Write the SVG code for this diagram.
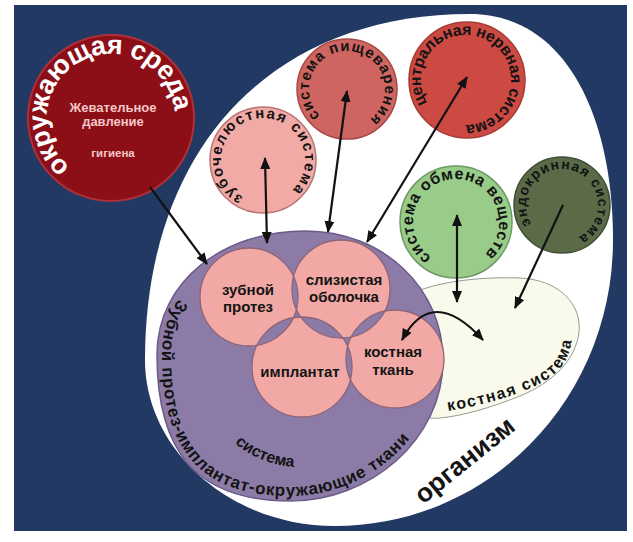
<svg xmlns="http://www.w3.org/2000/svg" width="633" height="542" viewBox="0 0 633 542">
<defs>
<style>
text{font-family:"Liberation Sans",Arial,"DejaVu Sans",sans-serif;font-weight:bold}
.dk{fill:#141414}
.lt{fill:#f5c8c8}
.wt{fill:#ffffff}
#connectors path{fill:none;stroke:#111;stroke-width:2.2}
.pk{fill:#f2a9a5}
.ring{fill:none;stroke:#8e6478;stroke-width:1.3}
</style>
<marker id="ah" viewBox="0 0 12 10" refX="11" refY="5" markerWidth="12" markerHeight="10" markerUnits="userSpaceOnUse" orient="auto-start-reverse">
<path d="M0,0 L12,5 L0,10 Z" fill="#111"/>
</marker>
<path id="p-env" d="M 69.9,167 A 64 64 0 1 1 175,116.9"/>
<path id="p-zs" d="M 243.3,197.1 A 42 42 0 1 1 285.3,195.6"/>
<path id="p-dig" d="M 320.1,115.9 A 38 38 0 1 1 363.1,123.4"/>
<path id="p-cns" d="M 427.2,103 A 45 45 0 1 1 463,124.8"/>
<path id="p-met" d="M 431.3,257.2 A 43 43 0 1 1 480.7,257.2"/>
<path id="p-end" d="M 531.5,224.1 A 36 36 0 1 1 572.5,239.4"/>
<path id="p-sys" d="M 178.6,298.8 C 167.9,314.8 162,333.4 162,355 C 162,447 198,496 290,496 C 343.2,496 394.4,467.3 420.5,423.1"/>
<path id="p-sys2" d="M 222.6,430.9 A 101 101 0 0 0 317.5,465.5"/>
<path id="p-bone" d="M 448,411 C 490,404 530,392 552,376 C 568,364 573,345 572,326"/>
</defs>

<rect width="633" height="542" fill="#ffffff"/>
<rect x="14" y="5" width="613" height="526" fill="#223963"/>

<g id="organism">
<path d="M 470,14 C 565,14 613,115 613,240 C 613,398 490,526 335,526 C 230,526 145,450 145,360 C 145,150 270,14 470,14 Z" fill="#ffffff"/>
<text class="dk" font-size="26" text-anchor="middle" transform="translate(470,467) rotate(-39)">организм</text>
</g>

<g id="bone-system">
<path d="M 400,300 C 420,285 470,276 520,278 C 560,280 582,305 579,332 C 576,360 552,383 520,396 C 490,408 462,416 440,418 C 420,420 400,410 392,385 Z" fill="#fafaec" stroke="#9a9a90" stroke-width="1"/>
<text class="dk" font-size="16"><textPath href="#p-bone" textLength="152">костная система</textPath></text>
</g>

<g id="system">
<path d="M 305,231 C 385,231 443,290 443,360 C 443,440 370,501 290,501 C 195,501 157,450 157,355 C 157,280 225,231 305,231 Z" fill="#8b7ba6" stroke="#6c5b88" stroke-width="1.5"/>
<text class="dk" font-size="17"><textPath href="#p-sys" textLength="416">Зубной протез-имплантат-окружающие ткани</textPath></text>
<text class="dk" font-size="16" text-anchor="middle"><textPath href="#p-sys2" startOffset="47%">система</textPath></text>
</g>

<g id="overlaps">
<path class="pk" fill-rule="evenodd" d="M200,297 a49,49 0 1,0 98,0 a49,49 0 1,0 -98,0 Z M292,289 a49,49 0 1,0 98,0 a49,49 0 1,0 -98,0 Z M252,367 a50,50 0 1,0 100,0 a50,50 0 1,0 -100,0 Z M346,359 a49,49 0 1,0 98,0 a49,49 0 1,0 -98,0 Z"/>
</g>
<g id="n-prosthesis">
<circle class="ring" cx="249" cy="297" r="49"/>
<text class="dk" font-size="15" text-anchor="middle" x="248" y="295">зубной</text>
<text class="dk" font-size="15" text-anchor="middle" x="248" y="312">протез</text>
</g>
<g id="n-mucosa">
<circle class="ring" cx="341" cy="289" r="49"/>
<text class="dk" font-size="15" text-anchor="middle" x="344" y="285">слизистая</text>
<text class="dk" font-size="15" text-anchor="middle" x="344" y="302">оболочка</text>
</g>
<g id="n-implant">
<circle class="ring" cx="302" cy="367" r="50"/>
<text class="dk" font-size="15" text-anchor="middle" x="300" y="377">имплантат</text>
</g>
<g id="n-bone-tissue">
<circle class="ring" cx="395" cy="359" r="49"/>
<text class="dk" font-size="15" text-anchor="middle" x="393" y="357">костная</text>
<text class="dk" font-size="15" text-anchor="middle" x="393" y="375">ткань</text>
</g>

<g id="n-dental-system">
<circle cx="263" cy="160" r="53" fill="#f2aaa7" stroke="#b87474" stroke-width="1.5"/>
<text class="dk" font-size="15"><textPath href="#p-zs" textLength="210">зубочелюстная система</textPath></text>
</g>
<g id="n-digestion">
<circle cx="347" cy="89" r="50" fill="#cf6560" stroke="#a84a48" stroke-width="1.5"/>
<text class="dk" font-size="15"><textPath href="#p-dig" textLength="184">система пищеварения</textPath></text>
</g>
<g id="n-cns">
<circle cx="467" cy="80" r="58" fill="#cc4a42" stroke="#a33a35" stroke-width="1.5"/>
<text class="dk" font-size="16"><textPath href="#p-cns" textLength="236">центральная нервная система</textPath></text>
</g>
<g id="n-metabolism">
<circle cx="456" cy="222" r="56" fill="#98cc88" stroke="#6d9a62" stroke-width="1.5"/>
<text class="dk" font-size="16"><textPath href="#p-met" textLength="212">система обмена веществ</textPath></text>
</g>
<g id="n-endocrine">
<circle cx="562" cy="205" r="48" fill="#5b6b48" stroke="#3f4d33" stroke-width="1.5"/>
<text class="dk" font-size="14"><textPath href="#p-end" textLength="172">эндокринная система</textPath></text>
</g>

<g id="n-environment">
<circle cx="111" cy="118" r="83" fill="#8c0e16" stroke="#b0303a" stroke-width="2"/>
<text class="wt" font-size="27"><textPath href="#p-env" textLength="250">окружающая среда</textPath></text>
<text class="lt" font-size="13" text-anchor="middle" x="113" y="112">Жевательное</text>
<text class="lt" font-size="13" text-anchor="middle" x="113" y="126">давление</text>
<text class="lt" font-size="11.5" text-anchor="middle" x="113" y="157">гигиена</text>
</g>

<g id="connectors">
<path d="M 150,187 L 207,264" marker-end="url(#ah)"/>
<path d="M 265,158 L 267,243" marker-start="url(#ah)" marker-end="url(#ah)"/>
<path d="M 347,91 L 328,232" marker-start="url(#ah)" marker-end="url(#ah)"/>
<path d="M 467,77 L 367,242" marker-start="url(#ah)" marker-end="url(#ah)"/>
<path d="M 457,215 L 457,302" marker-start="url(#ah)" marker-end="url(#ah)"/>
<path d="M 563,205 L 515,308" marker-end="url(#ah)"/>
<path d="M 402,340 Q 432,284 483,340" marker-start="url(#ah)" marker-end="url(#ah)"/>
</g>
</svg>
